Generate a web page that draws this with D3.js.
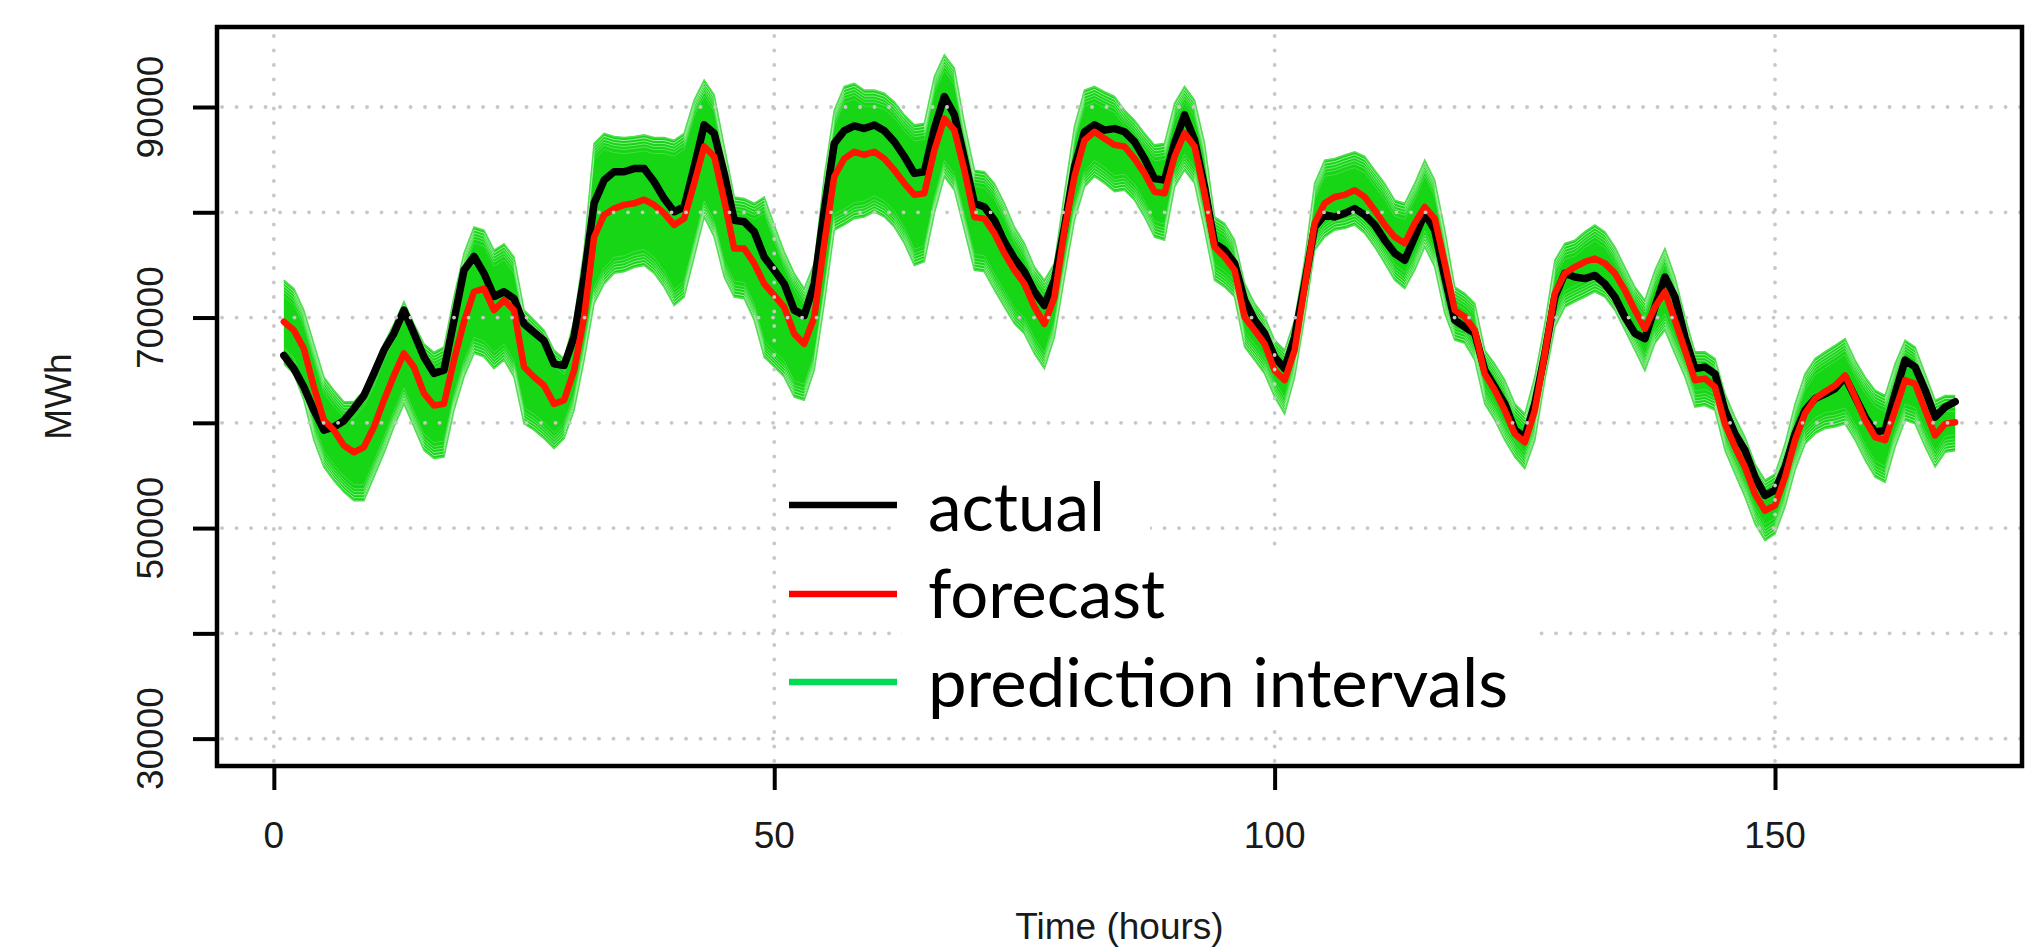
<!DOCTYPE html>
<html><head><meta charset="utf-8">
<script src="https://cdn.jsdelivr.net/npm/d3@7"></script>
<style>html,body{margin:0;padding:0;background:#fff;} svg{display:block}</style>
</head><body>
<svg id="chart" width="2034" height="947"></svg>
<script>
// ---------------- data (MWh, hourly) ----------------
const hours = d3.range(1, 169);
const actual = [
66400,65150,63400,61200,59300,59600,60200,61350,62600,64700,66900,68500,70700,68500,66250,64700,65000,69750,74500,75800,74200,72000,72450,71800,69400,68600,67800,65600,
65450,68150,73850,80850,83050,83850,83850,84150,84150,82900,81300,80050,80500,84300,88300,87500,83700,79250,79100,78150,75750,74500,73200,70700,70200,73200,80200,86550,
87750,88200,87950,88300,87750,86700,85300,83700,83850,87950,91000,89250,85100,80850,80500,79250,77200,75600,74350,72450,71150,73550,78600,84300,87650,88300,87800,87950,
87650,86700,85100,83200,83050,86550,89250,86850,82400,77050,76400,75150,71650,69750,68500,66250,65150,68150,73200,78600,79750,79550,79900,80350,79750,78800,77350,76100,
75450,77650,79900,78300,73850,69750,69100,68500,65000,63400,61800,59300,58650,61800,66550,71950,74200,73850,73700,74000,73200,71950,70050,68500,68000,71000,73850,71950,
68150,65150,65300,64650,61200,58950,57400,54850,53100,53600,55800,58950,61200,62300,62750,63250,64350,62450,60550,59100,59300,62750,65950,65300,63100,60550,61500,62000];
const forecast = [
69600,68800,67050,63400,60250,59300,57850,57200,57700,59600,62150,64500,66600,65300,62800,61650,61800,65950,69600,72450,72750,70700,71650,70700,65300,64350,63550,61800,
62150,65000,70050,77650,79750,80350,80700,80850,81200,80700,79900,78800,79400,82750,86250,85300,81150,76550,76550,75150,73200,72100,71000,68450,67500,70050,77050,83400,
85100,85750,85450,85750,85100,84000,82750,81650,81800,85900,88900,87800,84000,79550,79400,78000,76100,74500,73200,71000,69400,71950,78300,83400,86850,87650,87000,86400,
86250,85100,83700,81950,81800,85300,87500,86250,81800,76700,75750,74500,70050,68800,67500,65000,64050,66900,72900,78950,80850,81450,81650,82100,81450,80200,78800,77650,
77050,78950,80500,79400,75150,70700,70050,68800,64650,63100,61200,58950,58150,61200,66550,72300,74200,74800,75300,75600,75150,74200,72600,70700,68950,71000,72450,69750,
66900,64050,64200,63400,59900,57700,55800,53250,51650,52150,54850,58350,60900,62300,62950,63550,64500,62450,60250,58650,58350,61200,64050,63700,61200,58800,59900,60050];
const piUpper = [
73550,72750,70700,67500,64350,63100,62000,62000,63100,65000,67500,69400,71500,69400,67500,66700,67200,72000,76100,78600,78300,76400,77000,75750,70700,69750,68800,66900,
66100,69750,76400,86550,87500,87200,87100,87200,87350,87100,87100,86850,87500,90650,92550,91150,86250,81450,81300,80850,81450,78800,76250,74200,72750,75150,83400,89700,
91950,92250,91600,91600,91300,90500,89250,88300,88450,92900,94950,93700,88450,84000,83850,82750,80850,78600,77050,74800,73550,75150,81800,88150,91600,91950,91450,91000,
89700,88750,87500,86400,86550,90350,91950,90650,86550,79550,78950,77350,73250,71350,70050,67850,66900,69750,75450,82750,84950,85100,85450,85750,85300,84000,82750,81150,
80850,82750,84950,83050,78300,72900,72300,71350,66900,65600,64050,61800,60850,64350,69400,75450,77050,77350,78150,78800,78150,76700,74800,72900,71650,74500,76550,73850,
70050,66750,66750,66100,62750,60550,58650,56100,54550,55150,58000,61800,64650,66100,66750,67350,68000,65950,64350,63100,62600,65600,67850,67200,64650,62150,62600,62600];
const piLower = [
65600,64650,62150,58350,55800,54500,53400,52600,52600,54850,57100,59600,61800,59600,57400,56600,56750,61200,64350,66600,66250,65150,65950,64350,59900,59300,58500,57550,
58500,61200,65950,71350,73200,74200,74350,74750,74950,74200,72900,71150,71950,75750,79550,77650,73850,71950,71800,69750,66250,65300,64350,62450,62150,65000,71350,78300,
78800,79400,79550,80050,79550,78600,77050,74950,75300,79900,83400,82100,78300,74500,74350,72600,71000,69400,68450,66550,65150,68150,73850,79250,82400,83400,82750,81950,
82100,81150,79550,77650,77350,82400,84000,82750,78300,73550,72900,71950,67200,65950,64650,62450,60850,64350,70050,76400,77650,78300,78450,78800,78000,76700,75150,73550,
72750,74500,76700,74800,70400,67850,67550,65950,61800,60250,58350,56750,55650,58350,64050,69100,71000,71500,71950,72450,71950,70700,68800,66900,64950,67550,68800,66550,
64350,61500,61650,61200,57400,55150,52950,50400,48800,49450,52000,55500,58000,58950,59450,59600,59900,58350,56450,54850,54350,57700,60250,59900,57700,55800,57200,57350];
const xTicks = [0, 50, 100, 150];
const yTicks = [30000, 40000, 50000, 60000, 70000, 80000, 90000];
const yTickLabels = ["30000", "", "50000", "", "70000", "", "90000"];
const legendLabels = ["actual", "forecast", "prediction intervals"];
const legendColors = ["#000000", "#ff0000", "#00dd55"];

// ---------------- layout ----------------
const svg = d3.select("#chart");
const L = 217, R = 2022, T = 27, B = 766;
const x = d3.scaleLinear().domain([1 - 0.04 * 167, 168 + 0.04 * 167]).range([L, R]);
const y = d3.scaleLinear().domain([27400, 97600]).range([B, T]);

const rows = hours.map((h, i) => ({h, a: actual[i], f: forecast[i], lo: piLower[i], hi: piUpper[i]}));

// prediction band
const area = d3.area().x(d => x(d.h)).y0(d => y(d.lo)).y1(d => y(d.hi));
svg.append("defs").append("clipPath").attr("id", "bandclip")
  .append("path").attr("d", area(rows));
svg.append("path").attr("d", area(rows)).attr("fill", "#16d616");

const upLine = d3.line().x(d => x(d.h)).y(d => y(d.hi));
const loLine = d3.line().x(d => x(d.h)).y(d => y(d.lo));
const fringe = svg.append("g").attr("clip-path", "url(#bandclip)");
[3, 6, 9, 12, 16].forEach((off, k) => {
  fringe.append("path").attr("d", upLine(rows)).attr("transform", `translate(0,${off})`)
    .attr("fill", "none").attr("stroke", "#ffffff").attr("stroke-width", 1)
    .attr("stroke-opacity", 0.6 - k * 0.1);
  fringe.append("path").attr("d", loLine(rows)).attr("transform", `translate(0,${-off})`)
    .attr("fill", "none").attr("stroke", "#ffffff").attr("stroke-width", 1)
    .attr("stroke-opacity", 0.6 - k * 0.1);
});
svg.append("path").attr("d", upLine(rows)).attr("fill", "none").attr("stroke", "#55dd55").attr("stroke-width", 1.6);
svg.append("path").attr("d", loLine(rows)).attr("fill", "none").attr("stroke", "#55dd55").attr("stroke-width", 1.6);

// actual and forecast
svg.append("path").attr("d", d3.line().x(d => x(d.h)).y(d => y(d.a))(rows))
  .attr("fill", "none").attr("stroke", "#000").attr("stroke-width", 7.5)
  .attr("stroke-linejoin", "round").attr("stroke-linecap", "round");
svg.append("path").attr("d", d3.line().x(d => x(d.h)).y(d => y(d.f))(rows))
  .attr("fill", "none").attr("stroke", "#ff1500").attr("stroke-width", 6.5)
  .attr("stroke-linejoin", "round").attr("stroke-linecap", "round");

// dotted grid (drawn on top, as in R's grid())
const grid = svg.append("g").attr("stroke", "#c8c8c8").attr("stroke-width", 3.8)
  .attr("stroke-linecap", "round").attr("stroke-dasharray", "0.1,14.4");
grid.selectAll("line.h").data(yTicks).join("line").attr("class", "h")
  .attr("x1", L + 5).attr("x2", R).attr("y1", d => y(d)).attr("y2", d => y(d));
grid.selectAll("line.v").data(xTicks).join("line").attr("class", "v")
  .attr("y1", B - 5).attr("y2", T).attr("x1", d => x(d)).attr("x2", d => x(d));

// axes
const yAxis = svg.append("g").attr("transform", `translate(${L},0)`)
  .call(d3.axisLeft(y).tickValues(yTicks).tickSize(24).tickSizeOuter(0).tickFormat(""));
const xAxis = svg.append("g").attr("transform", `translate(0,${B})`)
  .call(d3.axisBottom(x).tickValues(xTicks).tickSize(24).tickSizeOuter(0).tickFormat(""));
[yAxis, xAxis].forEach(g => {
  g.select(".domain").remove();
  g.selectAll(".tick line").attr("stroke", "#000").attr("stroke-width", 4);
});

// box
svg.append("rect").attr("x", L).attr("y", T).attr("width", R - L).attr("height", B - T)
  .attr("fill", "none").attr("stroke", "#000").attr("stroke-width", 4.5);

const font = "'Liberation Sans', Arial, Helvetica, sans-serif";
// y tick labels (rotated, R style)
svg.selectAll("text.yl").data(yTicks.map((v, i) => ({v, t: yTickLabels[i]})).filter(d => d.t))
  .join("text").attr("class", "yl")
  .attr("transform", d => `translate(163,${y(d.v)}) rotate(-90)`)
  .attr("text-anchor", "middle").attr("font-family", font).attr("font-size", 37)
  .attr("fill", "#1a1a1a").text(d => d.t);
// x tick labels
svg.selectAll("text.xl").data(xTicks).join("text").attr("class", "xl")
  .attr("x", d => x(d)).attr("y", 848).attr("text-anchor", "middle")
  .attr("font-family", font).attr("font-size", 37).attr("fill", "#1a1a1a").text(d => d);
// axis titles
svg.append("text").attr("transform", `translate(71,${(T + B) / 2}) rotate(-90)`)
  .attr("text-anchor", "middle").attr("font-family", font).attr("font-size", 37)
  .attr("fill", "#1a1a1a").text("MWh");
svg.append("text").attr("x", (L + R) / 2).attr("y", 939).attr("text-anchor", "middle")
  .attr("font-family", font).attr("font-size", 37).attr("fill", "#1a1a1a").text("Time (hours)");

// legend (white text boxes over the grid)
svg.append("rect").attr("x", 902).attr("y", 478).attr("width", 248).attr("height", 68).attr("fill", "#fff");
svg.append("rect").attr("x", 902).attr("y", 546).attr("width", 633).attr("height", 178).attr("fill", "#fff");
const legY = [505, 594, 682], legBase = [531, 618, 707], legW = [177, 237, 580];
legendLabels.forEach((t, i) => {
  svg.append("line").attr("x1", 789).attr("x2", 897).attr("y1", legY[i]).attr("y2", legY[i])
    .attr("stroke", legendColors[i]).attr("stroke-width", 6.5);
  svg.append("text").attr("x", 928).attr("y", legBase[i])
    .attr("font-family", "Lato, 'Open Sans', sans-serif").attr("font-size", 68).attr("fill", "#000")
    .attr("textLength", legW[i]).attr("lengthAdjust", "spacingAndGlyphs").text(t);
});
</script>
</body></html>
